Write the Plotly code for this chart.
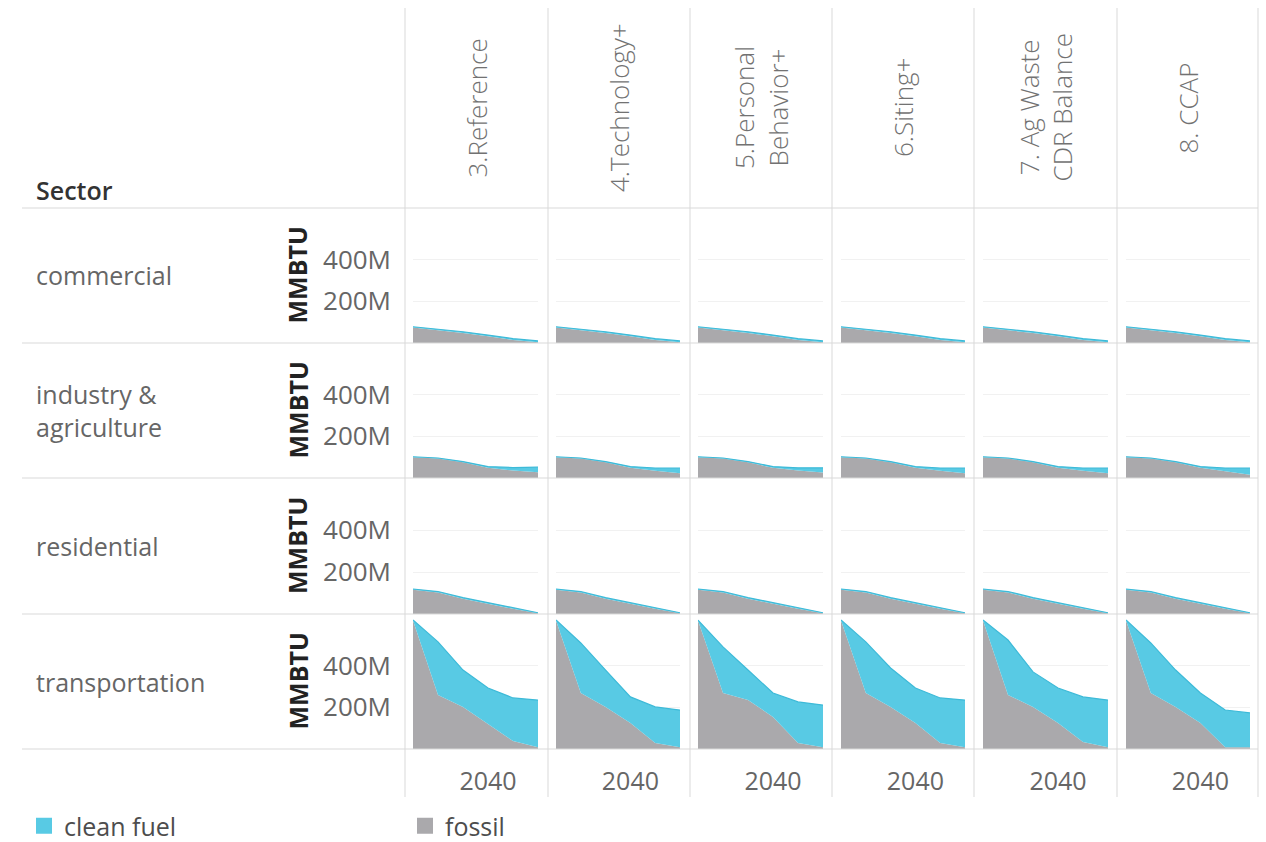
import plotly.graph_objects as go

W, H = 1266, 842

# ---- data (energy use, million MMBTU) ----
years = [2025, 2030, 2035, 2040, 2045, 2050]
scenarios = ["3.Reference", "4.Technology+", "5.Personal<br>Behavior+",
             "6.Siting+", "7. Ag Waste<br>CDR Balance", "8. CCAP"]
sector_labels = ["commercial", "industry &<br>agriculture", "residential", "transportation"]

commercial_fossil = [
    [74, 62, 48, 32, 15, 4],
    [74, 62, 48, 32, 15, 4],
    [74, 62, 48, 32, 15, 4],
    [74, 62, 48, 32, 15, 4],
    [74, 62, 48, 32, 15, 4],
    [74, 62, 48, 32, 15, 4],
]
commercial_clean = [
    [4, 5, 6, 6, 6, 6],
    [4, 5, 6, 6, 6, 6],
    [4, 5, 6, 6, 6, 6],
    [4, 5, 6, 6, 6, 6],
    [4, 5, 6, 6, 6, 6],
    [4, 5, 6, 6, 6, 6],
]
industry_fossil = [
    [100, 93, 75, 49, 36, 28],
    [100, 93, 75, 49, 35, 23],
    [100, 93, 75, 49, 36, 26],
    [100, 93, 75, 49, 35, 23],
    [100, 93, 75, 49, 35, 23],
    [100, 93, 75, 49, 32, 15],
]
industry_clean = [
    [2, 3, 4, 6, 14, 24],
    [2, 3, 4, 6, 13, 24],
    [2, 3, 4, 6, 13, 23],
    [2, 3, 4, 6, 13, 24],
    [2, 3, 4, 6, 13, 24],
    [2, 3, 4, 6, 16, 32],
]
residential_fossil = [
    [115, 102, 73, 48, 25, 3],
    [115, 102, 73, 48, 25, 3],
    [115, 102, 73, 48, 25, 3],
    [115, 102, 73, 48, 25, 3],
    [115, 102, 73, 48, 25, 3],
    [115, 102, 73, 48, 25, 3],
]
residential_clean = [
    [4, 5, 5, 5, 5, 3],
    [4, 5, 5, 5, 5, 3],
    [4, 5, 5, 5, 5, 3],
    [4, 5, 5, 5, 5, 3],
    [4, 5, 5, 5, 5, 3],
    [4, 5, 5, 5, 5, 3],
]
transportation_fossil = [
    [617, 259, 202, 120, 38, 8],
    [617, 269, 202, 125, 29, 8],
    [617, 269, 235, 154, 29, 8],
    [617, 269, 202, 125, 29, 8],
    [617, 259, 202, 125, 34, 8],
    [617, 269, 202, 125, 8, 8],
]
transportation_clean = [
    [2, 255, 177, 173, 207, 227],
    [2, 240, 177, 125, 173, 179],
    [2, 221, 144, 115, 197, 203],
    [2, 245, 187, 168, 216, 227],
    [2, 264, 168, 168, 216, 227],
    [2, 240, 177, 144, 179, 165],
]

fossil_by_sector = [commercial_fossil, industry_fossil, residential_fossil, transportation_fossil]
clean_by_sector = [commercial_clean, industry_clean, residential_clean, transportation_clean]

# ---- styling ----
CLEAN = "#58cae4"
CLEAN_EDGE = "#3dbad8"
FOSSIL = "#aaa9ac"
RULE = "#d9d9d9"
GRID = "#f1f1f1"
FONT = "Open Sans"
TXT = "#666666"

# cell geometry in pixels
col_edges = [405, 548, 690, 832, 974, 1117, 1258]
plot_x = [(413, 538), (556, 680), (698, 823), (841, 965), (983, 1108), (1126, 1250)]
row_edges = [208, 343, 478, 614, 749]
Y_MAX = 648e6


def fx(x):
    return x / W


def fy(y):
    return 1 - y / H


fig = go.Figure()
layout = {}

for r in range(4):
    for c in range(6):
        n = r * 6 + c + 1
        xa = "x" if n == 1 else f"x{n}"
        ya = "y" if n == 1 else f"y{n}"
        fos = [v * 1e6 for v in fossil_by_sector[r][c]]
        cln = [v * 1e6 for v in clean_by_sector[r][c]]
        fig.add_trace(go.Scatter(
            x=years, y=fos, xaxis=xa, yaxis=ya, stackgroup="s", mode="lines",
            line=dict(width=0, color=FOSSIL), fillcolor=FOSSIL,
            showlegend=False, name="fossil"))
        fig.add_trace(go.Scatter(
            x=years, y=cln, xaxis=xa, yaxis=ya, stackgroup="s", mode="lines",
            line=dict(width=1.2, color=CLEAN_EDGE), fillcolor=CLEAN,
            showlegend=False, name="clean fuel"))

        x0, x1 = plot_x[c]
        y_top, y_bot = row_edges[r], row_edges[r + 1]
        xkey = "xaxis" if n == 1 else f"xaxis{n}"
        ykey = "yaxis" if n == 1 else f"yaxis{n}"
        layout[xkey] = dict(
            domain=[fx(x0), fx(x1)], anchor=ya, range=[2025, 2050],
            showgrid=False, zeroline=False, showline=False, ticks="",
            tickvals=[2040], ticktext=["2040"],
            showticklabels=(r == 3), ticklabelstandoff=15,
            tickfont=dict(family=FONT, size=25, color=TXT),
        )
        layout[ykey] = dict(
            domain=[fy(y_bot), fy(y_top)], anchor=xa, range=[0, Y_MAX],
            showgrid=True, gridcolor=GRID, gridwidth=1, zeroline=False,
            showline=False, ticks="", tickvals=[200e6, 400e6], tickformat="~s",
            showticklabels=(c == 0), ticklabelstandoff=21,
            tickfont=dict(family=FONT, size=26, color=TXT),
        )

# legend entries
fig.add_trace(go.Scatter(x=[None], y=[None], mode="markers", name="clean fuel",
                         marker=dict(symbol="square", size=20, color=CLEAN)))
fig.add_trace(go.Scatter(x=[None], y=[None], mode="markers", name="fossil",
                         marker=dict(symbol="square", size=20, color=FOSSIL)))

shapes = []
for y in row_edges:
    shapes.append(dict(type="line", xref="paper", yref="paper",
                       x0=fx(22), x1=fx(1258), y0=fy(y), y1=fy(y),
                       line=dict(color=RULE, width=1)))
for x in col_edges:
    shapes.append(dict(type="line", xref="paper", yref="paper",
                       x0=fx(x), x1=fx(x), y0=fy(8), y1=fy(797),
                       line=dict(color=RULE, width=1)))

annotations = []
annotations.append(dict(text="Sector", x=fx(34), y=fy(190), xref="paper", yref="paper",
                        xanchor="left", yanchor="middle", showarrow=False,
                        font=dict(family=FONT, size=25, color="#333333", weight=600)))
for c, name in enumerate(scenarios):
    cx = (col_edges[c] + col_edges[c + 1]) / 2
    annotations.append(dict(text=name, x=fx(cx), y=fy(108), xref="paper", yref="paper",
                            xanchor="center", yanchor="middle", showarrow=False,
                            textangle=-90,
                            font=dict(family=FONT, size=26, color="#727272", weight=300)))
for r, name in enumerate(sector_labels):
    cy = (row_edges[r] + row_edges[r + 1]) / 2
    annotations.append(dict(text=name, x=fx(34), y=fy(cy), xref="paper", yref="paper",
                            xanchor="left", yanchor="middle", showarrow=False, align="left",
                            font=dict(family=FONT, size=25, color=TXT)))
    annotations.append(dict(text="MMBTU", x=fx(297), y=fy(cy), xref="paper", yref="paper",
                            xanchor="center", yanchor="middle", showarrow=False,
                            textangle=-90,
                            font=dict(family=FONT, size=25, color="#222222", weight=700)))

fig.update_layout(
    width=W, height=H, margin=dict(l=0, r=0, t=0, b=0, autoexpand=False),
    paper_bgcolor="white", plot_bgcolor="white",
    shapes=shapes, annotations=annotations,
    showlegend=True,
    legend=dict(orientation="h", x=fx(24), y=fy(803), xanchor="left", yanchor="top",
                font=dict(family=FONT, size=25, color="#4d4d4d"), traceorder="normal",
                itemsizing="trace", entrywidth=336, bgcolor="rgba(0,0,0,0)"),
    **layout,
)

fig.write_html("out.html")
